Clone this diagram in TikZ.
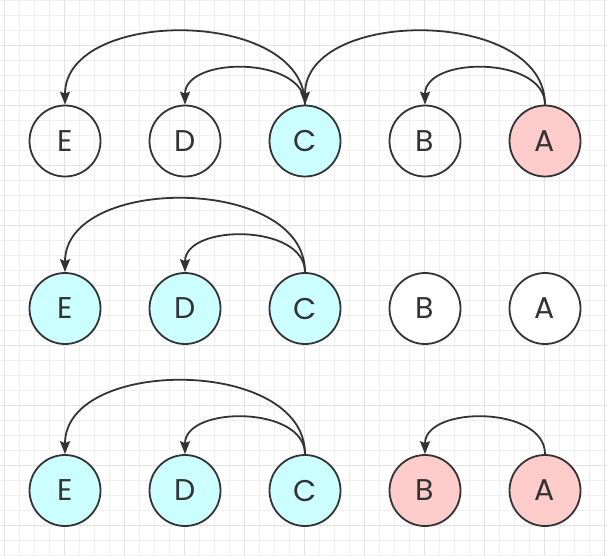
\documentclass[tikz,border=0pt]{standalone}
\usepackage{fontspec}
\setmainfont{Poppins}
\usepackage{tikz}
\usetikzlibrary{arrows.meta, positioning}

\definecolor{inkgray}{HTML}{333333}
\definecolor{minorgrid}{HTML}{EFEFEF}
\definecolor{majorgrid}{HTML}{E2E2E2}
\definecolor{visited}{HTML}{CCFFFF}
\definecolor{marked}{HTML}{FFCCCC}

\tikzset{
    vert/.style={circle, draw=inkgray, line width=1.8pt, minimum size=71pt, inner sep=0pt,
        text=inkgray, font=\fontsize{30}{32}\selectfont},
    link/.style={-{Stealth[length=13pt, width=10pt, inset=2pt]}, draw=inkgray, line width=1.8pt,
        out=90, in=90, looseness=1.04}
}

\begin{document}
\begin{tikzpicture}[x=1pt, y=-1pt]
    \useasboundingbox (0,0) rectangle (607,555);
    \fill[white] (0,0) rectangle (607,555);

    % Grid
    \foreach \x in {0,...,40} {
        \draw[minorgrid, line width=1pt] (4.5+15*\x,0) -- (4.5+15*\x,555);
    }
    \foreach \y in {0,...,37} {
        \draw[minorgrid, line width=1pt] (0,15*\y) -- (607,15*\y);
    }
    \foreach \x in {0,...,10} {
        \draw[majorgrid, line width=1pt] (4.5+60*\x,0) -- (4.5+60*\x,555);
    }
    \foreach \y in {0,...,8} {
        \draw[majorgrid, line width=1pt] (0,45+60*\y) -- (607,45+60*\y);
    }

    % Row 1
    \node[vert] (e1) at (65,141) {E};
    \node[vert] (d1) at (185,141) {D};
    \node[vert, fill=visited] (c1) at (305,141) {C};
    \node[vert] (b1) at (425,141) {B};
    \node[vert, fill=marked] (a1) at (545,141) {A};
    \draw[link] (c1.north) to (e1.north);
    \draw[link] (c1.north) to (d1.north);
    \draw[link] (a1.north) to (c1.north);
    \draw[link] (a1.north) to (b1.north);

    % Row 2
    \node[vert, fill=visited] (e2) at (65,308.5) {E};
    \node[vert, fill=visited] (d2) at (185,308.5) {D};
    \node[vert, fill=visited] (c2) at (305,308.5) {C};
    \node[vert, fill=white] (b2) at (425,308.5) {B};
    \node[vert, fill=white] (a2) at (545,308.5) {A};
    \draw[link] (c2.north) to (e2.north);
    \draw[link] (c2.north) to (d2.north);

    % Row 3
    \node[vert, fill=visited] (e3) at (65,490.5) {E};
    \node[vert, fill=visited] (d3) at (185,490.5) {D};
    \node[vert, fill=visited] (c3) at (305,490.5) {C};
    \node[vert, fill=marked] (b3) at (425,490.5) {B};
    \node[vert, fill=marked] (a3) at (545,490.5) {A};
    \draw[link] (c3.north) to (e3.north);
    \draw[link] (c3.north) to (d3.north);
    \draw[link] (a3.north) to (b3.north);
\end{tikzpicture}
\end{document}
